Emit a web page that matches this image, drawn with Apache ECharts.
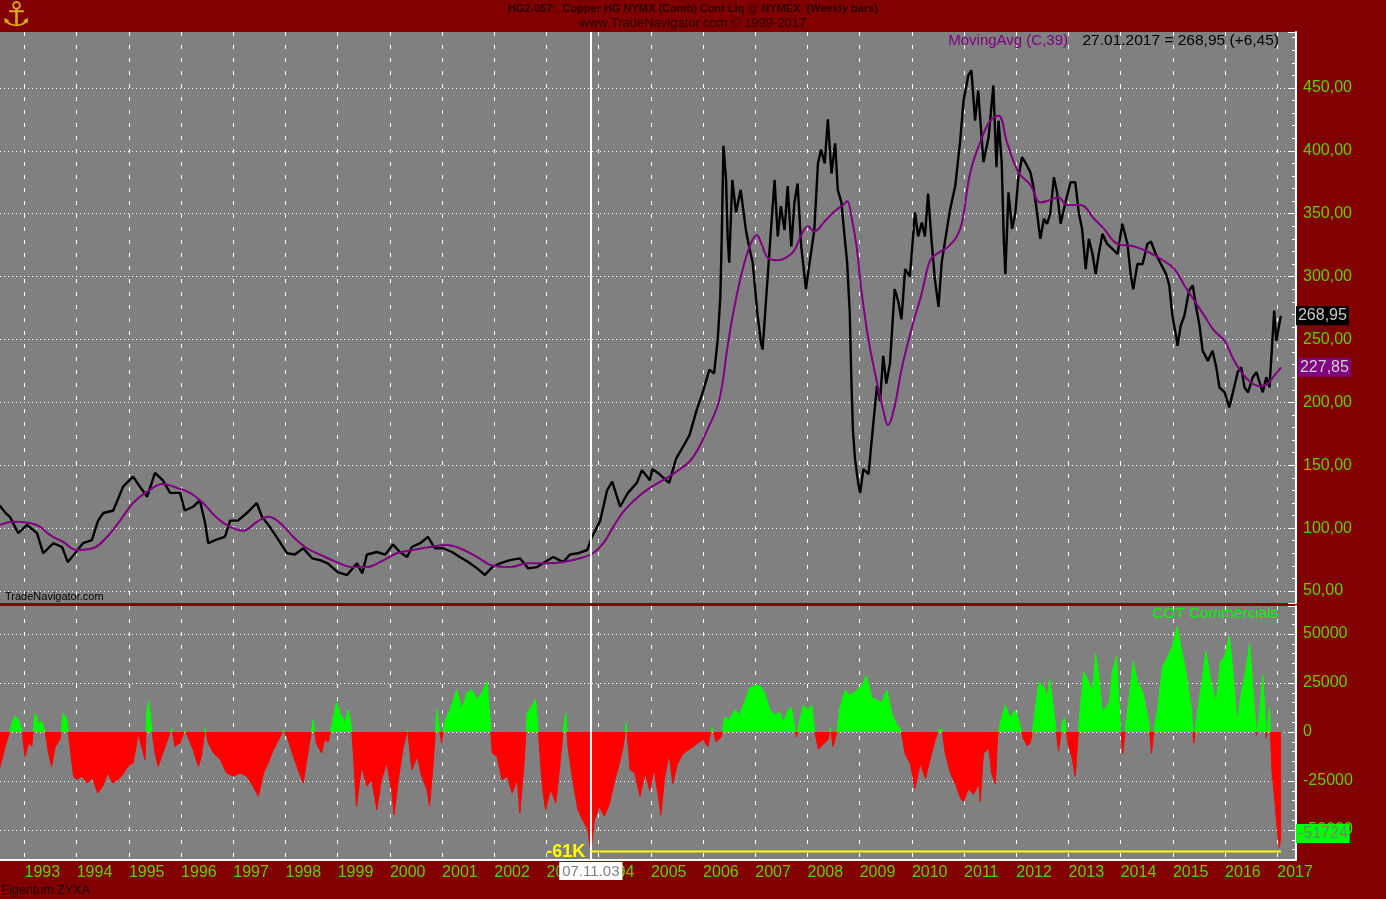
<!DOCTYPE html>
<html><head><meta charset="utf-8">
<script src="https://cdn.jsdelivr.net/npm/echarts@6/dist/echarts.min.js"></script>
<style>html,body{margin:0;padding:0;background:#800000;overflow:hidden}#c{width:1386px;height:899px}</style>
</head><body><div id="c"></div>
<script>
// ---- data (dates as fractional years) ----
const priceDates = [1992.53,1992.56,1992.64,1992.72,1992.88,1993.05,1993.24,1993.36,1993.55,1993.72,1993.83,1993.97,1994.12,1994.29,1994.41,1994.51,1994.70,1994.89,1995.08,1995.21,1995.35,1995.50,1995.65,1995.79,1995.98,1996.07,1996.23,1996.36,1996.46,1996.52,1996.69,1996.84,1996.94,1997.09,1997.26,1997.45,1997.55,1997.70,1997.86,1998.03,1998.18,1998.34,1998.51,1998.66,1998.81,1999.00,1999.18,1999.37,1999.47,1999.56,1999.75,1999.91,2000.06,2000.19,2000.33,2000.42,2000.58,2000.73,2000.86,2001.02,2001.19,2001.34,2001.50,2001.67,2001.82,2001.96,2002.11,2002.30,2002.49,2002.65,2002.82,2002.97,2003.13,2003.32,2003.45,2003.60,2003.78,2003.87,2004.03,2004.16,2004.26,2004.41,2004.56,2004.73,2004.83,2004.98,2005.03,2005.16,2005.35,2005.48,2005.64,2005.74,2005.87,2006.00,2006.12,2006.21,2006.28,2006.33,2006.36,2006.39,2006.44,2006.47,2006.50,2006.56,2006.63,2006.72,2006.82,2006.88,2006.95,2007.04,2007.11,2007.14,2007.21,2007.30,2007.37,2007.43,2007.49,2007.56,2007.62,2007.69,2007.75,2007.81,2007.88,2007.97,2008.04,2008.13,2008.20,2008.26,2008.33,2008.39,2008.46,2008.53,2008.58,2008.65,2008.71,2008.76,2008.81,2008.84,2008.87,2008.91,2008.97,2009.01,2009.07,2009.17,2009.23,2009.33,2009.39,2009.45,2009.51,2009.58,2009.67,2009.74,2009.80,2009.87,2009.96,2010.06,2010.12,2010.19,2010.25,2010.31,2010.38,2010.44,2010.51,2010.57,2010.63,2010.73,2010.83,2010.92,2010.99,2011.08,2011.14,2011.21,2011.27,2011.37,2011.47,2011.56,2011.62,2011.66,2011.72,2011.76,2011.79,2011.85,2011.92,2011.98,2012.04,2012.11,2012.17,2012.27,2012.33,2012.40,2012.46,2012.53,2012.59,2012.65,2012.72,2012.78,2012.85,2012.94,2013.04,2013.13,2013.20,2013.26,2013.33,2013.39,2013.46,2013.52,2013.58,2013.65,2013.74,2013.84,2013.94,2014.03,2014.13,2014.19,2014.24,2014.32,2014.42,2014.51,2014.58,2014.67,2014.77,2014.87,2014.93,2014.99,2015.06,2015.09,2015.15,2015.22,2015.31,2015.38,2015.44,2015.51,2015.57,2015.67,2015.76,2015.83,2015.89,2015.99,2016.08,2016.15,2016.24,2016.31,2016.37,2016.44,2016.53,2016.60,2016.66,2016.72,2016.79,2016.85,2016.90,2016.94,2016.98,2017.04,2017.07];
const priceValues = [118,116,112,109,96,102.5,96,80,88,85,73,80,88,90.5,106,112,114,133,141,133,125,144,138,128,128,114,117,122,104,88,91,93,106,106,112,120,109,101,91,80,79,84,76,74.6,72,65,62.7,72,64,79,81,79,87,81,77,85,88,93,84,84,81,77,73,68,62.7,69,72,74.6,76,68,69,73,77,73,79,80,82.6,93,106,130,137,117,128,136,146,138,147,143,136,155,166.5,174,193,209,226,223,250,284,337,404,377,332,311,377,351,369,337,324,311,271,247,242,284,337,377,332,356,337,372,324,359,374,324,290,311,337,390,401,390,425,382,406,369,359,332,311,271,218,178,155,136,128,147,143,170,213,201,237,215,231,290,280,266,306,300,351,332,343,332,366,327,298,276,311,327,353,372,406,440,460,464,424,448,391,411,452,387,424,391,330,302,367,338,350,379,395,391,383,371,350,330,346,342,350,379,367,342,359,375,375,350,338,306,330,318,302,318,334,326,322,318,342,326,302,290,310,310,326,328,318,310,302,293,269,253,245,261,269,289,293,277,261,241,233,241,228,212,208,196,208,224,228,212,208,220,224,216,208,220,212,245,273,249,262.5,268.95];

const maDates = [1992.53,1992.78,1993.10,1993.30,1993.49,1993.74,1994.00,1994.31,1994.58,1994.83,1995.08,1995.35,1995.65,1995.92,1996.17,1996.42,1996.69,1996.94,1997.19,1997.45,1997.67,1997.90,1998.15,1998.41,1998.66,1998.98,1999.29,1999.56,1999.81,2000.13,2000.44,2000.77,2001.09,2001.34,2001.67,2001.98,2002.30,2002.63,2003.01,2003.32,2003.64,2003.89,2004.09,2004.28,2004.47,2004.73,2004.98,2005.42,2005.74,2005.89,2006.08,2006.31,2006.47,2006.60,2006.76,2006.92,2007.03,2007.11,2007.24,2007.43,2007.62,2007.75,2007.88,2008.01,2008.13,2008.33,2008.52,2008.68,2008.76,2008.84,2008.94,2009.03,2009.16,2009.32,2009.45,2009.54,2009.67,2009.80,2009.99,2010.19,2010.35,2010.51,2010.70,2010.86,2010.96,2011.12,2011.31,2011.50,2011.66,2011.82,2012.04,2012.27,2012.46,2012.65,2012.81,2012.97,2013.23,2013.49,2013.68,2013.94,2014.26,2014.51,2014.77,2015.03,2015.22,2015.41,2015.60,2015.79,2015.99,2016.15,2016.31,2016.49,2016.66,2016.79,2016.92,2017.07];
const maValues = [102.5,105,104,101,94.5,89,82.6,84,93,106,120,129,135,132,128,120,108,101,98,105,109,104,93,84,79,73,69,69,73,80,82.6,85,86.6,84,77,70,69,72,72,73,76,80,88,101,113,124,132,143,153,162,178,202,245,276,306,327,333,327,315,313,316,321,333,340,336,344,352,357,360,348,324,290,252,218,194,182,197,226,258,287,313,319,324,332,343,383,407,424,428,407,383,373,359,361,363,357,357,346,338,326,324,320,314,306,293,281,269,257,249,235,224,216,213,214,220,227.85];

const cotDates = [1992.53,1992.56,1992.63,1992.69,1992.76,1992.82,1992.88,1992.95,1993.01,1993.08,1993.14,1993.20,1993.27,1993.33,1993.40,1993.46,1993.52,1993.59,1993.68,1993.74,1993.81,1993.87,1993.94,1994.00,1994.10,1994.20,1994.30,1994.40,1994.50,1994.59,1994.69,1994.79,1994.88,1994.98,1995.08,1995.14,1995.18,1995.24,1995.31,1995.34,1995.38,1995.43,1995.50,1995.56,1995.65,1995.72,1995.82,1995.88,1995.98,1996.07,1996.14,1996.23,1996.33,1996.39,1996.46,1996.52,1996.62,1996.75,1996.87,1997.00,1997.13,1997.26,1997.38,1997.48,1997.58,1997.67,1997.77,1997.87,1997.96,1998.05,1998.15,1998.24,1998.34,1998.40,1998.53,1998.59,1998.69,1998.75,1998.82,1998.88,1998.98,1999.04,1999.14,1999.20,1999.27,1999.36,1999.46,1999.56,1999.65,1999.75,1999.84,1999.94,2000.04,2000.08,2000.16,2000.26,2000.34,2000.42,2000.52,2000.61,2000.71,2000.76,2000.83,2000.90,2000.95,2000.99,2001.06,2001.15,2001.28,2001.38,2001.47,2001.57,2001.67,2001.76,2001.86,2001.91,2001.96,2002.05,2002.15,2002.25,2002.34,2002.44,2002.49,2002.57,2002.63,2002.73,2002.79,2002.84,2002.92,2002.98,2003.08,2003.18,2003.26,2003.32,2003.37,2003.41,2003.50,2003.60,2003.69,2003.79,2003.85,2003.92,2004.01,2004.11,2004.21,2004.31,2004.40,2004.47,2004.53,2004.60,2004.69,2004.79,2004.89,2004.98,2005.06,2005.16,2005.19,2005.26,2005.35,2005.42,2005.51,2005.61,2005.74,2005.87,2006.00,2006.09,2006.17,2006.25,2006.35,2006.41,2006.51,2006.60,2006.70,2006.79,2006.89,2006.99,2007.08,2007.18,2007.28,2007.37,2007.47,2007.53,2007.63,2007.69,2007.76,2007.79,2007.85,2007.92,2008.01,2008.08,2008.14,2008.21,2008.30,2008.40,2008.44,2008.49,2008.56,2008.62,2008.72,2008.81,2008.94,2009.04,2009.13,2009.23,2009.33,2009.42,2009.52,2009.62,2009.71,2009.79,2009.87,2009.97,2010.06,2010.16,2010.26,2010.35,2010.45,2010.51,2010.58,2010.64,2010.74,2010.83,2010.93,2010.99,2011.08,2011.18,2011.28,2011.31,2011.37,2011.47,2011.53,2011.60,2011.64,2011.69,2011.79,2011.88,2011.98,2012.06,2012.13,2012.21,2012.27,2012.33,2012.43,2012.53,2012.59,2012.64,2012.72,2012.78,2012.81,2012.88,2012.92,2012.99,2013.07,2013.13,2013.20,2013.29,2013.39,2013.46,2013.52,2013.58,2013.65,2013.71,2013.78,2013.84,2013.92,2013.99,2014.04,2014.10,2014.16,2014.24,2014.32,2014.42,2014.48,2014.54,2014.59,2014.64,2014.71,2014.80,2014.90,2014.99,2015.08,2015.15,2015.25,2015.35,2015.40,2015.44,2015.54,2015.63,2015.73,2015.83,2015.91,2015.99,2016.08,2016.15,2016.23,2016.31,2016.39,2016.47,2016.53,2016.60,2016.66,2016.72,2016.79,2016.85,2016.90,2016.95,2017.00,2017.04,2017.07];
const cotValues = [-18000,-18400,-7300,-2200,4600,8000,6300,1200,-12400,-5600,-7300,9700,4600,5400,-500,-10700,-17500,-7300,-3900,9700,6300,-7300,-22600,-24300,-22600,-26000,-23500,-31100,-27700,-20900,-26000,-24300,-21800,-17500,-15800,-7300,-500,-7300,-14100,9700,15600,2900,-10700,-17500,-10700,-5600,2000,-7300,-5600,1200,-3100,-9000,-17500,-12400,2000,-5600,-10700,-14100,-20900,-22600,-20900,-22600,-27700,-32800,-20900,-15800,-9000,-3900,1200,-3900,-12400,-19200,-26000,-15800,6300,-5600,-10700,-3900,-5000,2900,15600,9700,4600,11400,1200,-37900,-17500,-27700,-24300,-39600,-24300,-15800,-31100,-42200,-24300,-7300,1200,-19200,-12400,-22600,-29400,-37900,-15800,11400,1200,-5600,6300,11400,21600,11400,19900,21600,16500,19900,25800,9700,-10700,-12400,-24300,-22600,-31100,-24300,-41300,-15800,9700,13900,16500,1200,-27700,-39600,-29400,-36200,-15800,1200,9700,-7300,-24300,-39600,-44700,-49800,-61000,-44700,-37900,-43000,-36200,-24300,-15800,-7300,4600,-19200,-20900,-32800,-20900,-30000,-18750,-36250,-42500,-23750,-11250,-26250,-16250,-11250,-8750,-6250,-3750,-7500,2500,-5000,-2500,7500,6250,11250,8750,15000,22500,23750,23750,20000,11250,8750,10000,5000,11250,12500,1250,-2500,6250,13750,11250,13750,0,-8750,-6250,-3750,2500,-7500,0,12500,21250,18750,21250,23750,28750,17500,16250,15000,21250,8750,3750,1250,-11250,-16250,-28750,-16250,-23750,-13750,-3750,1250,1250,-11250,-21250,-26250,-33750,-35600,-29100,-31700,-26500,-35600,-10900,-8300,-21300,-26500,-3100,4700,13800,7300,11200,4700,-3100,-7000,-5700,4700,25500,22900,17700,26800,9900,-3100,-9600,4700,7300,-5700,-13500,-22600,4700,30700,25500,20300,39800,28100,9900,12500,15100,30700,38500,4700,-10900,4700,17700,35900,25500,20300,12500,4700,-10900,2100,12500,33300,38500,43700,54100,43700,30700,12500,-5700,4700,22900,41100,25500,15100,35900,38500,48900,30700,4700,20300,30700,45000,22900,-1800,9900,29400,-3100,12500,-21300,-34300,-49900,-59000,-51724];

const cursorDate = 2003.85;          // 07.11.03
const cotExtreme = -61000;           // -61K
const xRange = [1992.531, 2017.358];
const priceRange = [40.46, 494.53];
const cotRange = [-65306, 64286];

const zip = (a, b) => a.map((t, i) => [t, b[i]]);
const FONT = "'Liberation Sans', Arial, sans-serif";
const LBL = '#66cc00';

const chart = echarts.init(document.getElementById('c'), null, {renderer: 'canvas'});

const xCommon = {
  type: 'value', min: xRange[0], max: xRange[1], minInterval: 1, maxInterval: 1,
  axisTick: {show: false},
  splitLine: {show: true, showMinLine: false, showMaxLine: false, lineStyle: {color: '#ffffff', width: 1, type: [4, 9]}}
};
const yCommon = {
  type: 'value', position: 'right',
  axisLine: {show: true, lineStyle: {color: '#ffffff', width: 2}},
  axisTick: {show: true, inside: true, length: 8, lineStyle: {color: '#ffffff', width: 1}},
  minorTick: {show: true, splitNumber: 5, length: 4, lineStyle: {color: '#ffffff', width: 1}},
  splitLine: {show: true, showMinLine: false, showMaxLine: false, lineStyle: {color: '#ffffff', width: 1, type: [1, 3]}}
};

const last = priceValues.length - 1;

chart.setOption({
  backgroundColor: '#800000',
  animation: false,
  grid: [
    {left: 0, right: 90, top: 32, height: 571, show: true, backgroundColor: '#808080', borderWidth: 0},
    {left: 0, right: 90, top: 606, height: 254, show: true, backgroundColor: '#808080', borderWidth: 0}
  ],
  xAxis: [
    Object.assign({}, xCommon, {gridIndex: 0, axisLine: {show: false}, axisLabel: {show: false}}),
    Object.assign({}, xCommon, {gridIndex: 1,
      axisLine: {show: true, onZero: false, lineStyle: {color: '#ffffff', width: 2}},
      axisLabel: {show: true, color: LBL, fontSize: 16, fontFamily: FONT, align: 'left', margin: 5,
        showMinLabel: false, showMaxLabel: false, formatter: v => String(Math.round(v))}})
  ],
  yAxis: [
    Object.assign({}, yCommon, {gridIndex: 0, min: priceRange[0], max: priceRange[1], minInterval: 50, maxInterval: 50,
      axisLabel: {color: LBL, fontSize: 16, fontFamily: FONT, margin: 7, showMinLabel: false, showMaxLabel: false,
        formatter: v => v.toFixed(2).replace('.', ',')}}),
    Object.assign({}, yCommon, {gridIndex: 1, min: cotRange[0], max: cotRange[1], minInterval: 25000, maxInterval: 25000,
      axisLabel: {color: LBL, fontSize: 16, fontFamily: FONT, margin: 7, showMinLabel: false, showMaxLabel: false,
        formatter: v => String(v)}})
  ],
  visualMap: {
    type: 'piecewise', show: false, seriesIndex: 2, dimension: 1,
    pieces: [{gt: 0, lte: 200000, color: '#00ff00'}, {gte: -200000, lte: 0, color: '#ff0000'}]
  },
  series: [
    {
      name: 'Price', type: 'line', xAxisIndex: 0, yAxisIndex: 0, data: zip(priceDates, priceValues),
      showSymbol: false, z: 3, lineStyle: {color: '#000000', width: 2.4}, itemStyle: {color: '#000'},
      endLabel: {show: true, distance: 15, formatter: p => p.value[1].toFixed(2).replace('.', ','),
        backgroundColor: '#000000', color: '#c8c8c8', fontSize: 16, fontFamily: FONT, padding: [2, 2, 1, 2]},
      markLine: {silent: true, symbol: ['none', 'none'], label: {show: false},
        lineStyle: {color: '#ffffff', width: 2, type: 'solid'}, data: [{xAxis: cursorDate}]}
    },
    {
      name: 'MovingAvg (C,39)', type: 'line', xAxisIndex: 0, yAxisIndex: 0, data: zip(maDates, maValues),
      showSymbol: false, smooth: 0.4, z: 4, lineStyle: {color: '#800080', width: 2}, itemStyle: {color: '#800080'},
      endLabel: {show: true, distance: 17, formatter: p => p.value[1].toFixed(2).replace('.', ','),
        backgroundColor: '#800080', color: '#d0d0d0', fontSize: 16, fontFamily: FONT, padding: [2, 2, 1, 2]}
    },
    {
      name: 'COT Commercials', type: 'line', xAxisIndex: 1, yAxisIndex: 1, data: zip(cotDates, cotValues),
      showSymbol: false, z: 2, lineStyle: {width: 1}, areaStyle: {opacity: 1, origin: 0},
      endLabel: {show: true, distance: 15, formatter: p => String(p.value[1]),
        backgroundColor: '#00ff00', color: '#6a8a6a', fontSize: 16, fontFamily: FONT, padding: [2, 2, 1, 2]},
      markLine: {silent: true, symbol: ['none', 'none'],
        lineStyle: {color: '#ffffff', width: 2, type: 'solid'},
        label: {show: true, position: 'start', distance: 2, formatter: '07.11.03', backgroundColor: '#ffffff',
          color: '#808080', fontSize: 15, fontFamily: FONT, padding: [2, 3, 1, 3]},
        data: [{xAxis: cursorDate}]}
    },
    {
      name: 'Extreme', type: 'line', xAxisIndex: 1, yAxisIndex: 1, z: 5,
      data: [{value: [cursorDate, cotExtreme], symbolSize: 1,
               label: {show: true, position: 'left', distance: 5, formatter: '-61K', color: '#ffff00',
                       fontWeight: 'bold', fontSize: 18, fontFamily: FONT}},
             {value: [priceDates[last], cotExtreme], symbolSize: 0}],
      showSymbol: true, symbol: 'circle', lineStyle: {color: '#ffff00', width: 2}, itemStyle: {color: '#ffff00'}
    }
  ],
  graphic: [
    {type: 'text', left: 1, top: 0, style: {text: '\u2693', fill: '#d9a520', font: 'bold 34px DejaVu Sans'}},
    {type: 'text', x: 693, y: 9, style: {text: 'HG2-057:  Copper HG NYMX (Comb) Cont Liq @ NYMEX  (Weekly bars)',
      fill: '#2a0000', font: "bold 11px " + FONT, textAlign: 'center', textVerticalAlign: 'middle'}},
    {type: 'text', x: 693, y: 23, style: {text: 'www.TradeNavigator.com \u00a9 1999-2017',
      fill: '#2a0000', font: "13px " + FONT, textAlign: 'center', textVerticalAlign: 'middle'}},
    {type: 'text', x: 1068, y: 41, z: 10, style: {text: 'MovingAvg (C,39)', fill: '#800080',
      font: "15px " + FONT, textAlign: 'right', textVerticalAlign: 'middle'}},
    {type: 'text', x: 1279, y: 41, z: 10, style: {text: '27.01.2017 = 268,95 (+6,45)', fill: '#000000',
      font: "15.5px " + FONT, textAlign: 'right', textVerticalAlign: 'middle'}},
    {type: 'text', x: 1278, y: 614, z: 10, style: {text: 'COT Commercials', fill: '#00ff00',
      font: "15.3px " + FONT, textAlign: 'right', textVerticalAlign: 'middle'}},
    {type: 'text', x: 5, y: 597, z: 10, style: {text: 'TradeNavigator.com', fill: '#000000',
      font: "11px " + FONT, textAlign: 'left', textVerticalAlign: 'middle'}},
    {type: 'text', x: 1, y: 891, z: 10, style: {text: 'Eigentum ZYXA', fill: '#200000',
      font: "12.5px " + FONT, textAlign: 'left', textVerticalAlign: 'middle'}}
  ]
});
</script></body></html>
